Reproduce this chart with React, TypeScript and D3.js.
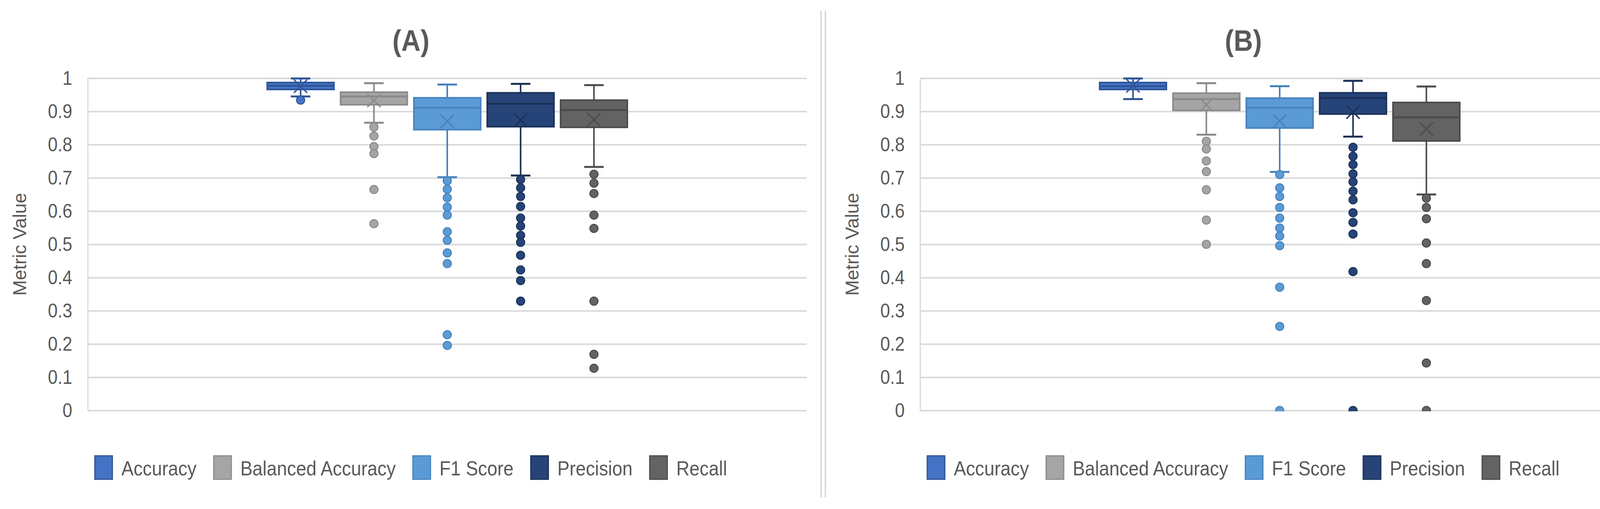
import React, { useRef, useEffect } from "react";
import * as d3 from "d3";

const metrics = ["Accuracy", "Balanced Accuracy", "F1 Score", "Precision", "Recall"];
const fills = ["#4472C4", "#A5A5A5", "#5B9BD5", "#264478", "#636363"];
const strokes = ["#2F5597", "#8A8A8A", "#4682BE", "#1B3157", "#4B4B4B"];
const yTicks = [0, 0.1, 0.2, 0.3, 0.4, 0.5, 0.6, 0.7, 0.8, 0.9, 1];

// (A)
const aWhiskerLow = [0.945, 0.866, 0.702, 0.707, 0.733];
const aQ1 = [0.966, 0.92, 0.845, 0.854, 0.852];
const aMedian = [0.977, 0.945, 0.911, 0.923, 0.904];
const aQ3 = [0.987, 0.958, 0.941, 0.956, 0.934];
const aWhiskerHigh = [0.999, 0.985, 0.981, 0.983, 0.979];
const aMean = [0.976, 0.933, 0.87, 0.874, 0.875];
const aOutliers = [
  [0.934],
  [0.853, 0.826, 0.794, 0.773, 0.665, 0.562],
  [0.691, 0.666, 0.64, 0.612, 0.588, 0.538, 0.512, 0.474, 0.442, 0.228, 0.196],
  [0.695, 0.67, 0.644, 0.614, 0.579, 0.555, 0.527, 0.506, 0.467, 0.423, 0.391, 0.329],
  [0.711, 0.684, 0.653, 0.588, 0.548, 0.329, 0.169, 0.127],
];

// (B)
const bWhiskerLow = [0.937, 0.83, 0.718, 0.824, 0.65];
const bQ1 = [0.966, 0.903, 0.85, 0.892, 0.811];
const bMedian = [0.976, 0.937, 0.911, 0.94, 0.882];
const bQ3 = [0.987, 0.955, 0.94, 0.956, 0.927];
const bWhiskerHigh = [0.999, 0.985, 0.976, 0.992, 0.975];
const bMean = [0.977, 0.92, 0.871, 0.898, 0.847];
const bOutliers = [
  [],
  [0.81, 0.787, 0.751, 0.719, 0.664, 0.573, 0.5],
  [0.71, 0.67, 0.644, 0.611, 0.579, 0.549, 0.525, 0.496, 0.371, 0.253, 0],
  [0.792, 0.765, 0.74, 0.712, 0.688, 0.66, 0.634, 0.595, 0.566, 0.531, 0.418, 0],
  [0.639, 0.611, 0.577, 0.504, 0.442, 0.331, 0.143, 0],
];

const panels = [
  { label: "(A)", lo: aWhiskerLow, q1: aQ1, med: aMedian, q3: aQ3, hi: aWhiskerHigh, mean: aMean, out: aOutliers },
  { label: "(B)", lo: bWhiskerLow, q1: bQ1, med: bMedian, q3: bQ3, hi: bWhiskerHigh, mean: bMean, out: bOutliers },
];

const W = 4255;
const H = 1302;
const PANEL_W = 2131;
const SANS = "'Liberation Sans', Arial, sans-serif";
const TEXT = "#595959";
const GRID = "#D9D9D9";
// squeeze text horizontally, the original uses a narrow font
const SX = 0.9;

const App = () => {
  const ref = useRef<SVGSVGElement>(null);

  useEffect(() => {
    if (!ref.current) return;
    const svg = d3.select(ref.current);
    svg.selectAll("*").remove();

    const plotLeft = 225;
    const plotRight = 2065;
    const plotTop = 200;
    const plotBottom = 1050;
    const plotW = plotRight - plotLeft;
    const center = (plotLeft + plotRight) / 2;
    const half = 2.5 * 187.75;

    const y = d3.scaleLinear().domain([0, 1]).range([plotBottom, plotTop]);
    const x = d3
      .scaleBand()
      .domain(metrics)
      .range([center - half, center + half])
      .paddingInner(0.09)
      .paddingOuter(0.045);

    // panel borders
    [2102, 2113].forEach((bx) => {
      svg
        .append("line")
        .attr("x1", bx)
        .attr("x2", bx)
        .attr("y1", 28)
        .attr("y2", 1272)
        .attr("stroke", GRID)
        .attr("stroke-width", 4);
    });

    panels.forEach((p, pi) => {
      const g = svg.append("g").attr("transform", `translate(${pi * PANEL_W},0)`);
      const panelCenter = 1052;

      svg
        .append("defs")
        .append("clipPath")
        .attr("id", `clip${pi}`)
        .append("rect")
        .attr("x", plotLeft - 40)
        .attr("y", plotTop - 40)
        .attr("width", plotW + 80)
        .attr("height", plotBottom - plotTop + 42);

      g.append("text")
        .attr("transform", `translate(${panelCenter},104) scale(${SX},1)`)
        .attr("text-anchor", "middle")
        .attr("dominant-baseline", "central")
        .attr("font-family", SANS)
        .attr("font-weight", "bold")
        .attr("font-size", 76)
        .attr("fill", TEXT)
        .text(p.label);

      const axis = g
        .append("g")
        .attr("transform", `translate(${plotLeft},0)`)
        .call(
          d3
            .axisLeft(y)
            .tickValues(yTicks)
            .tickSize(-plotW)
            .tickPadding(40)
            .tickFormat((d) => String(+(+d).toFixed(1)))
        );
      axis.select(".domain").remove();
      axis.selectAll(".tick line").attr("stroke", GRID).attr("stroke-width", 4);
      axis
        .selectAll(".tick text")
        .attr("x", -40 / SX)
        .attr("transform", `scale(${SX},1)`)
        .attr("font-family", SANS)
        .attr("font-size", 50)
        .attr("fill", TEXT);

      g.append("line")
        .attr("x1", plotLeft)
        .attr("x2", plotLeft)
        .attr("y1", plotTop)
        .attr("y2", plotBottom)
        .attr("stroke", GRID)
        .attr("stroke-width", 3);

      g.append("text")
        .attr("transform", `translate(50,${(plotTop + plotBottom) / 2}) rotate(-90)`)
        .attr("text-anchor", "middle")
        .attr("dominant-baseline", "central")
        .attr("font-family", SANS)
        .attr("font-size", 48)
        .attr("fill", TEXT)
        .text("Metric Value");

      const plot = g.append("g").attr("clip-path", `url(#clip${pi})`);

      metrics.forEach((m, i) => {
        const cx = (x(m) as number) + x.bandwidth() / 2;
        const bw = x.bandwidth();
        const bg = plot.append("g");
        const col = strokes[i];

        bg.append("line")
          .attr("x1", cx)
          .attr("x2", cx)
          .attr("y1", y(p.lo[i]))
          .attr("y2", y(p.hi[i]))
          .attr("stroke", col)
          .attr("stroke-width", 4);
        [p.lo[i], p.hi[i]].forEach((v) => {
          bg.append("line")
            .attr("x1", cx - 25)
            .attr("x2", cx + 25)
            .attr("y1", y(v))
            .attr("y2", y(v))
            .attr("stroke", col)
            .attr("stroke-width", 5);
        });

        bg.append("rect")
          .attr("x", cx - bw / 2)
          .attr("y", y(p.q3[i]))
          .attr("width", bw)
          .attr("height", y(p.q1[i]) - y(p.q3[i]))
          .attr("fill", fills[i])
          .attr("stroke", col)
          .attr("stroke-width", 4);

        bg.append("line")
          .attr("x1", cx - bw / 2)
          .attr("x2", cx + bw / 2)
          .attr("y1", y(p.med[i]))
          .attr("y2", y(p.med[i]))
          .attr("stroke", col)
          .attr("stroke-width", 5);

        const ym = y(p.mean[i]);
        const s = 17;
        bg.append("path")
          .attr("d", `M${cx - s},${ym - s}L${cx + s},${ym + s}M${cx - s},${ym + s}L${cx + s},${ym - s}`)
          .attr("stroke", col)
          .attr("stroke-width", 3.5)
          .attr("fill", "none");

        bg.selectAll("circle.out")
          .data(p.out[i])
          .join("circle")
          .attr("class", "out")
          .attr("cx", cx)
          .attr("cy", (d) => y(d))
          .attr("r", 10.5)
          .attr("fill", fills[i])
          .attr("stroke", col)
          .attr("stroke-width", 2.5);
      });

      // legend
      const lg = g.append("g");
      let pos = 0;
      metrics.forEach((m, i) => {
        lg.append("rect")
          .attr("x", pos)
          .attr("y", 1166)
          .attr("width", 45)
          .attr("height", 60)
          .attr("fill", fills[i])
          .attr("stroke", strokes[i])
          .attr("stroke-width", 3);
        const t = lg
          .append("text")
          .attr("transform", `translate(${pos + 68},1198) scale(${SX},1)`)
          .attr("dominant-baseline", "central")
          .attr("font-family", SANS)
          .attr("font-size", 52)
          .attr("fill", TEXT)
          .text(m);
        const tw = (t.node() as SVGTextElement).getComputedTextLength() * SX;
        pos += 68 + tw + 44;
      });
      const total = pos - 44;
      lg.attr("transform", `translate(${panelCenter - total / 2},0)`);
    });
  }, []);

  return (
    <svg
      ref={ref}
      width={W}
      height={H}
      style={{ position: "absolute", left: 0, top: 0, background: "#fff" }}
    />
  );
};

export default App;
